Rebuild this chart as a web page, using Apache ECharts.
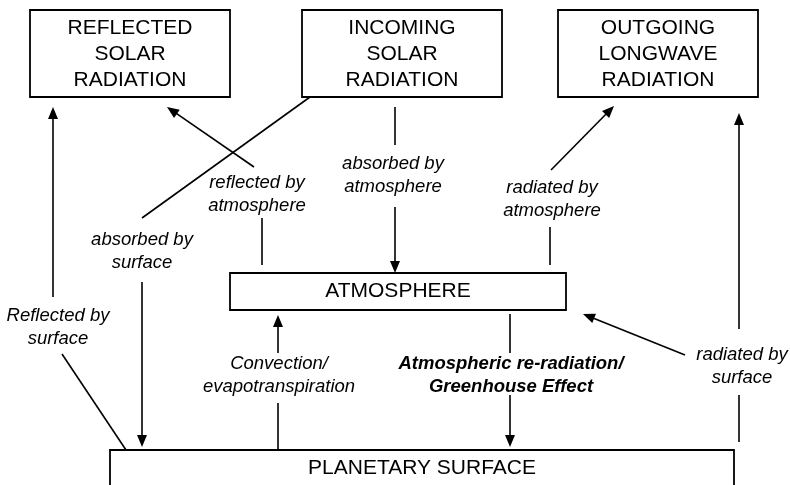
<!DOCTYPE html>
<html>
<head>
<meta charset="utf-8">
<script src="https://cdn.jsdelivr.net/npm/echarts@6/dist/echarts.min.js"></script>
<style>
  html, body { margin: 0; padding: 0; background: #fff; }
  #chart { width: 790px; height: 485px; }
</style>
</head>
<body>
<div id="chart"></div>
<script>
// diagram space = 790 x 485, y grows downward
const boxNames = ['REFLECTED\nSOLAR\nRADIATION', 'INCOMING\nSOLAR\nRADIATION', 'OUTGOING\nLONGWAVE\nRADIATION', 'ATMOSPHERE', 'PLANETARY SURFACE']
const boxRects = [[30, 10, 230, 97], [302, 10, 502, 97], [558, 10, 758, 97], [230, 273, 566, 310], [110, 450, 734, 500]]
const boxTextY = [54, 54, 54, 291.5, 468]

// segments ending with an arrow head (x1, y1 -> tip x2, y2)
const arrowSegs = [
  [53, 297, 53, 107],
  [142, 282, 142, 447],
  [254, 167, 167, 107],
  [395, 207, 395, 273],
  [551, 170, 614, 106],
  [739, 329, 739, 113],
  [685, 355, 583, 314],
  [278, 353, 278, 315],
  [510, 395, 510, 447]
]
// plain segments
const plainSegs = [
  [62, 354, 126, 450],
  [310, 97, 142, 218],
  [262, 265, 262, 218],
  [395, 107, 395, 145],
  [550, 265, 550, 227],
  [739, 395, 739, 442],
  [278, 403, 278, 450],
  [510, 314, 510, 353]
]

const flowLabels = [
  'Reflected by\nsurface',
  'absorbed by\nsurface',
  'reflected by\natmosphere',
  'absorbed by\natmosphere',
  'radiated by\natmosphere',
  'radiated by\nsurface',
  'Convection/\nevapotranspiration',
  'Atmospheric re-radiation/\nGreenhouse Effect'
]
const flowLabelPos = [[58, 327], [142, 251], [257, 194], [393, 175], [552, 199], [742, 366], [279, 375], [511, 375]]
const boldLabel = 'Atmospheric re-radiation/\nGreenhouse Effect'

const FONT = '"Liberation Sans", Arial, Helvetica, sans-serif'
const HEAD = 12

const chart = echarts.init(document.getElementById('chart'))

// pull arrow ends back so the head's tip lands on the given point
const arrowData = arrowSegs.map(([x1, y1, x2, y2]) => {
  const len = Math.hypot(x2 - x1, y2 - y1)
  const k = (len - HEAD / 2) / len
  return { coords: [[x1, y1], [x1 + (x2 - x1) * k, y1 + (y2 - y1) * k]] }
})

const option = {
  animation: false,
  backgroundColor: '#fff',
  textStyle: { fontFamily: FONT },
  grid: { left: 0, right: 0, top: 0, bottom: 0 },
  xAxis: { type: 'value', min: 0, max: 790, show: false },
  yAxis: { type: 'value', min: 0, max: 485, inverse: true, show: false },
  series: [
    {
      type: 'custom',
      silent: true,
      data: boxRects.map((r, i) => [r[0], r[1], r[2], r[3], boxTextY[i]]),
      renderItem: (params, api) => {
        const p1 = api.coord([api.value(0), api.value(1)])
        const p2 = api.coord([api.value(2), api.value(3)])
        const ty = api.coord([0, api.value(4)])[1]
        return {
          type: 'group',
          children: [
            {
              type: 'rect',
              shape: { x: p1[0], y: p1[1], width: p2[0] - p1[0], height: p2[1] - p1[1] },
              style: { fill: '#fff', stroke: '#000', lineWidth: 1.8 }
            },
            {
              type: 'text',
              style: {
                text: boxNames[params.dataIndex],
                x: (p1[0] + p2[0]) / 2,
                y: ty,
                align: 'center',
                verticalAlign: 'middle',
                font: '21px ' + FONT,
                lineHeight: 26,
                fill: '#000'
              }
            }
          ]
        }
      }
    },
    {
      type: 'lines',
      coordinateSystem: 'cartesian2d',
      silent: true,
      symbol: 'none',
      lineStyle: { color: '#000', width: 1.6, opacity: 1 },
      data: plainSegs.map(s => ({ coords: [[s[0], s[1]], [s[2], s[3]]] }))
    },
    {
      type: 'lines',
      coordinateSystem: 'cartesian2d',
      silent: true,
      symbol: ['none', 'triangle'],
      symbolSize: [1, [10, HEAD]],
      lineStyle: { color: '#000', width: 1.6, opacity: 1 },
      itemStyle: { color: '#000' },
      data: arrowData
    },
    {
      type: 'scatter',
      silent: true,
      symbolSize: 0,
      itemStyle: { opacity: 1 },
      data: flowLabels.map((name, i) => ({
        name,
        value: flowLabelPos[i],
        label: name === boldLabel ? { fontWeight: 'bold' } : undefined
      })),
      label: {
        show: true,
        position: 'inside',
        formatter: p => p.name,
        fontSize: 18.5,
        fontStyle: 'italic',
        lineHeight: 23,
        align: 'center',
        verticalAlign: 'middle',
        color: '#000',
        opacity: 1
      }
    }
  ]
}

chart.setOption(option)
window.addEventListener('resize', () => chart.resize())
</script>
</body>
</html>
